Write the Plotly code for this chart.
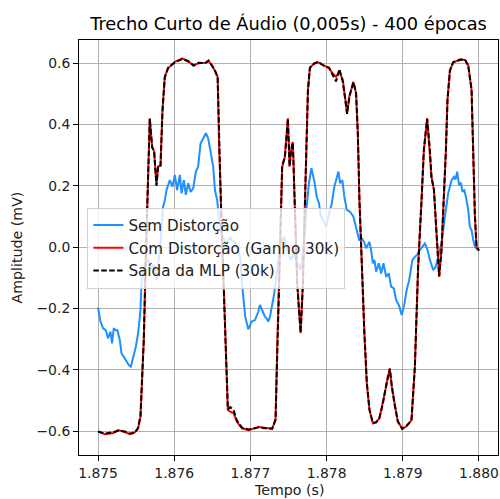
import plotly.graph_objects as go

# ---- data ----
t_clean = [1.875000, 1.875032, 1.875066, 1.875101, 1.875131, 1.875163, 1.875184, 1.875206, 1.875233, 1.875255,
           1.875285, 1.875308, 1.875338, 1.875373, 1.875404, 1.875430, 1.875460, 1.875496, 1.875526, 1.875557,
           1.875570, 1.875614, 1.875657, 1.875702, 1.875732, 1.875768, 1.875811, 1.875854, 1.875877, 1.875899,
           1.875942, 1.875978, 1.876008, 1.876038, 1.876074, 1.876096, 1.876126, 1.876153, 1.876183, 1.876215,
           1.876249, 1.876284, 1.876314, 1.876346, 1.876380, 1.876416, 1.876446, 1.876481, 1.876512, 1.876534,
           1.876564, 1.876590, 1.876626, 1.876678, 1.876731, 1.876801, 1.876866, 1.876889, 1.876932, 1.876972,
           1.877016, 1.877060, 1.877103, 1.877125, 1.877161, 1.877191, 1.877213, 1.877234, 1.877257, 1.877292,
           1.877313, 1.877345, 1.877397, 1.877441, 1.877484, 1.877529, 1.877572, 1.877616, 1.877660, 1.877704,
           1.877734, 1.877769, 1.877800, 1.877836, 1.877871, 1.877901, 1.877923, 1.877957, 1.877993, 1.878023,
           1.878068, 1.878102, 1.878134, 1.878155, 1.878177, 1.878207, 1.878233, 1.878265, 1.878308, 1.878352,
           1.878396, 1.878427, 1.878462, 1.878492, 1.878518, 1.878562, 1.878584, 1.878607, 1.878628, 1.878650,
           1.878686, 1.878716, 1.878746, 1.878782, 1.878817, 1.878847, 1.878883, 1.878913, 1.878948, 1.878988,
           1.879022, 1.879051, 1.879084, 1.879127, 1.879159, 1.879189, 1.879224, 1.879255, 1.879290, 1.879320,
           1.879356, 1.879399, 1.879430, 1.879465, 1.879508, 1.879553, 1.879596, 1.879640, 1.879671, 1.879692,
           1.879714, 1.879740, 1.879763, 1.879784, 1.879807, 1.879829, 1.879859, 1.879880, 1.879903, 1.879925,
           1.879947, 1.879977, 1.880000]
y_clean = [-0.197, -0.243, -0.265, -0.271, -0.298, -0.276, -0.314, -0.265, -0.271, -0.271,
           -0.303, -0.347, -0.358, -0.374, -0.385, -0.390, -0.358, -0.325, -0.281, -0.205,
           -0.118, -0.053, -0.040, -0.075, -0.055, -0.108, -0.010, 0.131, 0.153, 0.186,
           0.218, 0.197, 0.235, 0.186, 0.235, 0.175, 0.218, 0.170, 0.208, 0.180,
           0.191, 0.246, 0.262, 0.338, 0.354, 0.371, 0.354, 0.306, 0.262, 0.186,
           0.153, 0.088, 0.040, 0.010, 0.030, 0.013, -0.032, -0.118, -0.227, -0.268,
           -0.243, -0.238, -0.211, -0.189, -0.211, -0.227, -0.233, -0.243, -0.227, -0.184,
           -0.151, -0.086, 0.012, 0.034, -0.010, -0.042, -0.021, -0.053, -0.075, 0.012,
           0.121, 0.208, 0.257, 0.218, 0.164, 0.142, 0.099, 0.088, 0.066, 0.099,
           0.142, 0.197, 0.229, 0.246, 0.208, 0.218, 0.164, 0.121, 0.115, 0.099,
           0.055, 0.023, 0.028, 0.017, -0.004, 0.017, -0.010, -0.053, -0.042, -0.080,
           -0.053, -0.086, -0.053, -0.097, -0.086, -0.129, -0.135, -0.173, -0.189, -0.222,
           -0.184, -0.140, -0.108, -0.042, -0.032, -0.025, -0.010, 0.000, 0.012, -0.005,
           -0.042, -0.075, -0.065, -0.032, 0.012, 0.099, 0.175, 0.218, 0.229, 0.220,
           0.246, 0.202, 0.210, 0.180, 0.185, 0.164, 0.121, 0.066, 0.055, 0.023,
           0.001, -0.008, -0.010]

t_dist = [1.875000, 1.875088, 1.875200, 1.875263, 1.875351, 1.875417, 1.875482, 1.875526, 1.875557, 1.875578,
          1.875601, 1.875625, 1.875645, 1.875660, 1.875679, 1.875710, 1.875736, 1.875767, 1.875789, 1.875820,
          1.875846, 1.875876, 1.875920, 1.876008, 1.876108, 1.876188, 1.876254, 1.876320, 1.876406, 1.876451,
          1.876494, 1.876538, 1.876570, 1.876591, 1.876617, 1.876648, 1.876678, 1.876704, 1.876735, 1.876780,
          1.876823, 1.876889, 1.876977, 1.877111, 1.877176, 1.877286, 1.877330, 1.877351, 1.877374, 1.877396,
          1.877417, 1.877452, 1.877492, 1.877514, 1.877535, 1.877557, 1.877584, 1.877614, 1.877659, 1.877689,
          1.877711, 1.877733, 1.877755, 1.877781, 1.877834, 1.877887, 1.877966, 1.878031, 1.878081, 1.878124,
          1.878168, 1.878212, 1.878247, 1.878269, 1.878299, 1.878352, 1.878387, 1.878410, 1.878431, 1.878462,
          1.878496, 1.878528, 1.878562, 1.878607, 1.878650, 1.878693, 1.878738, 1.878772, 1.878804, 1.878830,
          1.878856, 1.878891, 1.878935, 1.878992, 1.879044, 1.879114, 1.879159, 1.879180, 1.879202, 1.879246,
          1.879277, 1.879320, 1.879356, 1.879377, 1.879409, 1.879443, 1.879478, 1.879508, 1.879540, 1.879566,
          1.879587, 1.879619, 1.879662, 1.879750, 1.879816, 1.879859, 1.879903, 1.879925, 1.879947, 1.879968,
          1.880000]
y_dist = [-0.600, -0.610, -0.606, -0.597, -0.603, -0.610, -0.604, -0.591, -0.553, -0.444,
          -0.300, -0.050, 0.150, 0.240, 0.420, 0.327, 0.311, 0.202, 0.262, 0.267,
          0.447, 0.555, 0.583, 0.604, 0.615, 0.604, 0.593, 0.599, 0.601, 0.606,
          0.593, 0.572, 0.555, 0.316, 0.099, -0.118, -0.336, -0.531, -0.537, -0.542,
          -0.570, -0.591, -0.597, -0.586, -0.591, -0.591, -0.564, -0.336, -0.118, 0.099,
          0.262, 0.294, 0.420, 0.262, 0.316, 0.343, 0.099, -0.118, -0.281, -0.118,
          0.099, 0.316, 0.512, 0.583, 0.599, 0.602, 0.593, 0.583, 0.566, 0.555,
          0.572, 0.545, 0.479, 0.436, 0.490, 0.539, 0.501, 0.371, 0.153, -0.064,
          -0.281, -0.444, -0.531, -0.575, -0.570, -0.559, -0.510, -0.466, -0.423, -0.398,
          -0.455, -0.510, -0.570, -0.591, -0.586, -0.564, -0.390, -0.227, -0.064, 0.153,
          0.316, 0.420, 0.316, 0.229, 0.186, 0.045, -0.097, -0.010, 0.153, 0.316,
          0.479, 0.577, 0.601, 0.612, 0.610, 0.593, 0.512, 0.316, 0.099, 0.001,
          -0.010]
y_mlp = [-0.602, -0.608, -0.604, -0.599, -0.601, -0.608, -0.606, -0.589, -0.550, -0.440,
         -0.298, -0.052, 0.148, 0.242, 0.418, 0.325, 0.313, 0.200, 0.265, 0.265,
         0.445, 0.553, 0.585, 0.602, 0.613, 0.606, 0.591, 0.601, 0.599, 0.608,
         0.591, 0.574, 0.553, 0.318, 0.097, -0.120, -0.334, -0.529, -0.522, -0.532,
         -0.566, -0.589, -0.595, -0.588, -0.589, -0.593, -0.562, -0.338, -0.116, 0.097,
         0.264, 0.292, 0.418, 0.264, 0.318, 0.341, 0.101, -0.116, -0.279, -0.120,
         0.097, 0.318, 0.510, 0.585, 0.597, 0.604, 0.591, 0.585, 0.560, 0.540,
         0.580, 0.540, 0.477, 0.434, 0.492, 0.537, 0.503, 0.369, 0.155, -0.062,
         -0.279, -0.442, -0.529, -0.573, -0.572, -0.557, -0.512, -0.464, -0.425, -0.396,
         -0.453, -0.512, -0.568, -0.593, -0.584, -0.566, -0.388, -0.229, -0.062, 0.151,
         0.318, 0.418, 0.318, 0.227, 0.188, 0.043, -0.095, -0.012, 0.155, 0.314,
         0.481, 0.575, 0.603, 0.610, 0.612, 0.591, 0.514, 0.314, 0.101, 0.003,
         -0.012]

x_ticks = [1.875, 1.876, 1.877, 1.878, 1.879, 1.880]
y_ticks = [-0.6, -0.4, -0.2, 0.0, 0.2, 0.4, 0.6]

names = ["Sem Distorção", "Com Distorção (Ganho 30k)", "Saída da MLP (30k)"]
title_text = "Trecho Curto de Áudio (0,005s) - 400 épocas"

FONT = "DejaVu Sans"

fig = go.Figure()
fig.add_trace(go.Scatter(x=t_clean, y=y_clean, mode="lines", name=names[0], legendgroup="a",
                         line=dict(color="#1E90FF", width=2)))
fig.add_trace(go.Scatter(x=t_dist, y=y_dist, mode="lines", name=names[1], legendgroup="b",
                         line=dict(color="#FF0000", width=2)))
fig.add_trace(go.Scatter(x=t_dist, y=y_mlp, mode="lines", name=names[2], legendgroup="c",
                         line=dict(color="#000000", width=2, dash="5.5px,2.4px")))

axis_common = dict(showgrid=True, gridcolor="#b0b0b0", gridwidth=0.8, zeroline=False,
                   showline=True, linecolor="black", linewidth=1, mirror=True,
                   ticks="outside", ticklen=5, tickwidth=1, tickcolor="black",
                   tickfont=dict(family=FONT, size=13.9, color="#222222"))

fig.update_layout(
    width=500, height=499,
    margin=dict(l=79, r=2, t=40, b=44),
    paper_bgcolor="white", plot_bgcolor="white",
    font=dict(family=FONT, size=13.9, color="black"),
    title=dict(text=title_text, x=288.5 / 500, xanchor="center",
               y=1 - 23.5 / 499, yanchor="middle", font=dict(family=FONT, size=17.8, color="black")),
    xaxis=dict(range=[1.87475, 1.88025], tickvals=x_ticks, tickformat=".3f", **axis_common),
    yaxis=dict(range=[-0.678, 0.675], tickvals=y_ticks, tickformat=".1f", **axis_common),
    showlegend=True,
    legend=dict(x=0.02, y=0.596, xanchor="left", yanchor="top",
                bgcolor="rgba(255,255,255,0.8)", bordercolor="#d0d0d0", borderwidth=1,
                font=dict(family=FONT, size=15.2, color="#222222"),
                tracegroupgap=0, traceorder="grouped"),
    annotations=[
        dict(text="Amplitude (mV)", xref="paper", yref="paper", x=-(79 - 17) / 418.6, y=0.5,
             xanchor="center", yanchor="middle", textangle=-90, showarrow=False,
             font=dict(family=FONT, size=14.2, color="#222222")),
        dict(text="Tempo (s)", xref="paper", yref="paper", x=0.5, y=-(490 - 455) / 415,
             xanchor="center", yanchor="middle", showarrow=False,
             font=dict(family=FONT, size=14.2, color="#222222")),
    ],
)

fig.write_html("out.html")
